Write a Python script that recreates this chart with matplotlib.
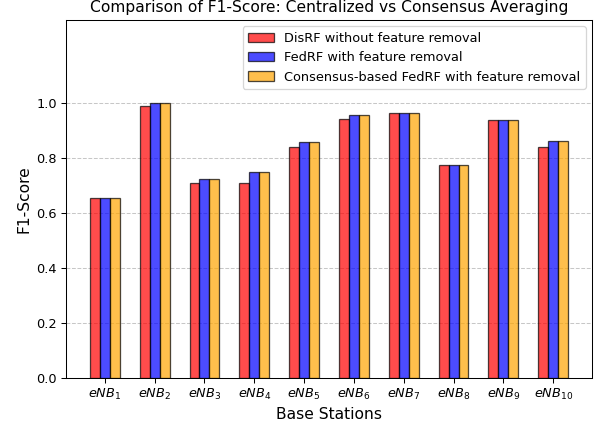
import numpy as np
import matplotlib.pyplot as plt

stations = [r'$eNB_{%d}$' % i for i in range(1, 11)]
disrf = [0.655, 0.989, 0.709, 0.709, 0.840, 0.939, 0.962, 0.773, 0.938, 0.839]
fedrf = [0.655, 1.000, 0.724, 0.748, 0.856, 0.954, 0.962, 0.773, 0.938, 0.860]
consensus = [0.655, 1.000, 0.724, 0.748, 0.856, 0.954, 0.962, 0.773, 0.938, 0.860]

x = np.arange(len(stations))
width = 0.2

dpi = 93
fig = plt.figure(figsize=(609/dpi, 426/dpi), dpi=dpi)
ax = fig.add_axes([66/609, 48/426, 526/609, 358/426])

ax.bar(x - width, disrf, width, label='DisRF without feature removal',
	color='red', edgecolor='black', alpha=0.7)
ax.bar(x, fedrf, width, label='FedRF with feature removal',
	color='blue', edgecolor='black', alpha=0.7)
ax.bar(x + width, consensus, width,
	label='Consensus-based FedRF with feature removal',
	color='orange', edgecolor='black', alpha=0.7)

ax.set_xticks(x)
ax.set_xticklabels(stations)
ax.set_ylim(0, 1.3)
ax.set_yticks([0.0, 0.2, 0.4, 0.6, 0.8, 1.0])
ax.set_xlabel('Base Stations', fontsize=12)
ax.set_ylabel('F1-Score', fontsize=12)
ax.set_title('Comparison of F1-Score: Centralized vs Consensus Averaging',
	fontsize=12)
ax.legend(loc='upper right')
ax.grid(axis='y', linestyle='--', alpha=0.7)
ax.set_axisbelow(True)

fig.savefig('out.png', dpi=dpi)
